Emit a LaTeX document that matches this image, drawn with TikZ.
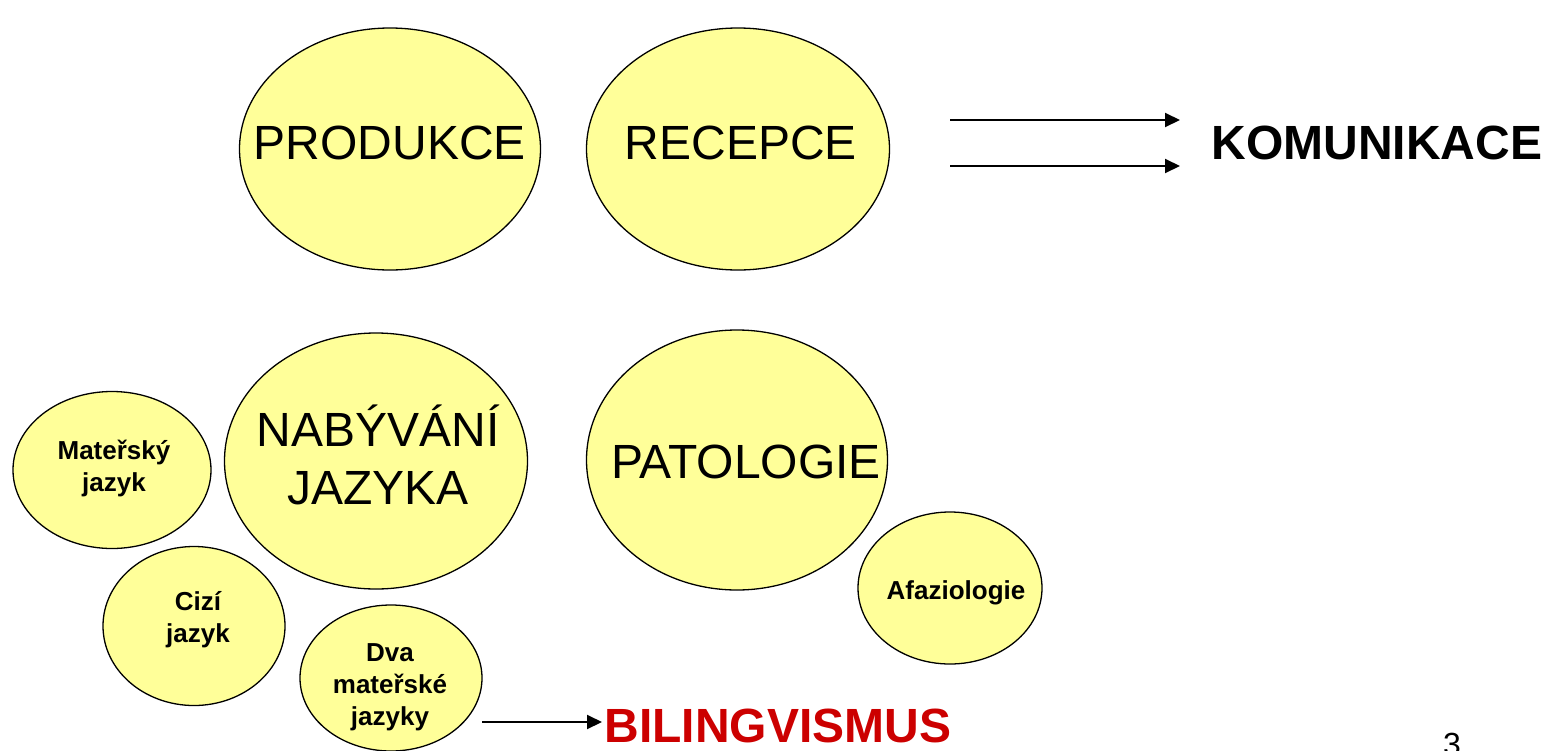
\documentclass[tikz,border=0pt]{standalone}
\usepackage{fontspec}
\setmainfont{Liberation Sans}
\usetikzlibrary{shapes.geometric,arrows.meta}
\definecolor{bubfill}{HTML}{FFFF99}
\definecolor{bilired}{HTML}{CC0000}
\tikzset{
  bub/.style={ellipse, draw=black, line width=1.3pt, fill=bubfill, inner sep=0pt},
  bigtxt/.style={font=\fontsize{48}{58}\selectfont, align=center, inner sep=0pt},
  bigbold/.style={font=\bfseries\fontsize{48}{58}\selectfont, align=center, inner sep=0pt},
  smalltxt/.style={font=\bfseries\fontsize{26}{32}\selectfont, align=center, inner sep=0pt},
  arr/.style={line width=2pt, -{Triangle[length=15pt,width=14pt]}}
}
\begin{document}
\begin{tikzpicture}[x=1pt,y=-1pt]
\useasboundingbox (0,0) rectangle (1548,750);

% upper row
\node[bub, minimum width=301pt, minimum height=242pt] (prod) at (390,149) {};
\node[bigtxt] (prodtxt) at (390,143) {PRODUKCE};
\node[bub, minimum width=303pt, minimum height=242pt] (rec) at (738,149) {};
\node[bigtxt] (rectxt) at (741,143) {RECEPCE};
\node[bigbold] (kom) at (1377,143) {KOMUNIKACE};

\coordinate (a1s) at (950,120);
\coordinate (a1e) at (1180,120);
\coordinate (a2s) at (950,166);
\coordinate (a2e) at (1180,166);
\draw[arr] (a1s) -- (a1e);
\draw[arr] (a2s) -- (a2e);

% language acquisition group
\node[bub, minimum width=198pt, minimum height=157pt] (mat) at (112,470) {};
\node[smalltxt] (mattxt) at (114,468) {Mateřský\\jazyk};
\node[bub, minimum width=303pt, minimum height=256pt] (nab) at (376,461) {};
\node[bigtxt] (nabtxt) at (378,455) {NABÝVÁNÍ\\JAZYKA};
\node[bub, minimum width=182pt, minimum height=159pt] (cizi) at (194,626) {};
\node[smalltxt] (cizitxt) at (198,620) {Cizí\\jazyk};
\node[bub, minimum width=182pt, minimum height=146pt] (dva) at (391,678) {};
\node[smalltxt] (dvatxt) at (390,687) {Dva\\mateřské\\jazyky};

% pathology group
\node[bub, minimum width=301pt, minimum height=260pt] (pat) at (737,460) {};
\node[bigtxt] (pattxt) at (746,462) {PATOLOGIE};
\node[bub, minimum width=184pt, minimum height=152pt] (afa) at (950,588) {};
\node[smalltxt] (afatxt) at (956,593) {Afaziologie};

% bilingualism
\node[bigbold, text=bilired] (bil) at (778,726) {BILINGVISMUS};
\coordinate (a3s) at (482,722);
\coordinate (a3e) at (602,722);
\draw[arr] (a3s) -- (a3e);

% page number, running off the bottom edge of the page
\node[font=\fontsize{32}{38}\selectfont, anchor=base, inner sep=0pt] (pg) at (1452,755) {3};
\end{tikzpicture}
\end{document}
